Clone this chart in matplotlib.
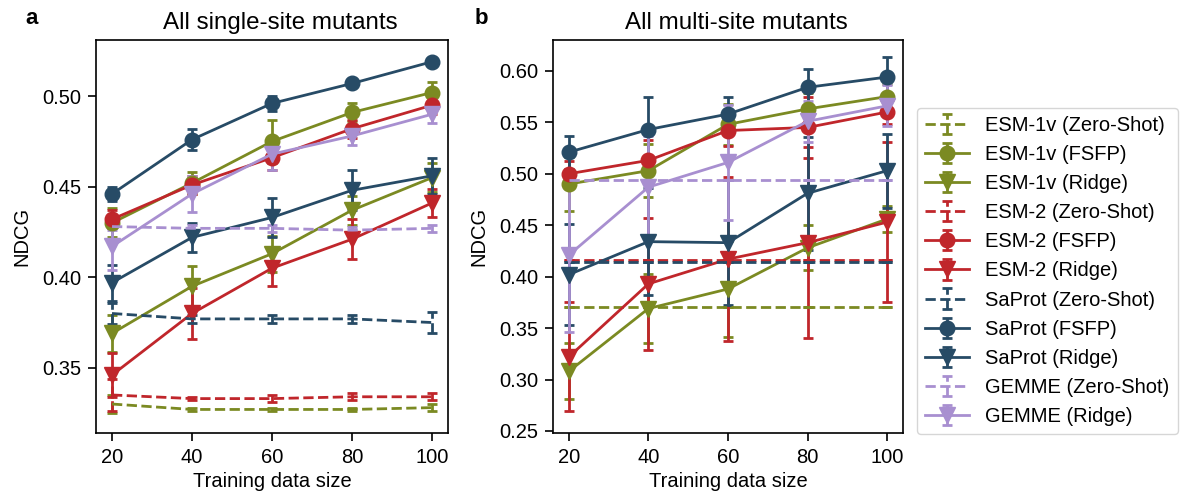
#!/usr/bin/env python3
"""NDCG vs training data size for single-site and multi-site mutants."""
import matplotlib

matplotlib.use("Agg")
import matplotlib.pyplot as plt  # noqa: E402
from matplotlib.ticker import FormatStrFormatter  # noqa: E402

plt.rcParams["font.family"] = ["Liberation Sans", "DejaVu Sans"]
plt.rcParams["font.size"] = 14.5

sizes = [20, 40, 60, 80, 100]

# ---- panel a: all single-site mutants ----
a_esm1v_zs = [0.330, 0.327, 0.327, 0.327, 0.328]
a_esm1v_zs_err = [0.005, 0.001, 0.001, 0.001, 0.002]
a_esm1v_fsfp = [0.430, 0.452, 0.475, 0.491, 0.502]
a_esm1v_fsfp_err = [0.008, 0.006, 0.012, 0.005, 0.006]
a_esm1v_ridge = [0.369, 0.395, 0.413, 0.437, 0.455]
a_esm1v_ridge_err = [0.010, 0.011, 0.010, 0.008, 0.008]
a_esm2_zs = [0.335, 0.333, 0.333, 0.334, 0.334]
a_esm2_zs_err = [0.009, 0.001, 0.002, 0.002, 0.002]
a_esm2_fsfp = [0.432, 0.451, 0.466, 0.482, 0.495]
a_esm2_fsfp_err = [0.005, 0.005, 0.007, 0.005, 0.005]
a_esm2_ridge = [0.346, 0.380, 0.405, 0.421, 0.441]
a_esm2_ridge_err = [0.012, 0.014, 0.010, 0.011, 0.008]
a_saprot_zs = [0.380, 0.377, 0.377, 0.377, 0.375]
a_saprot_zs_err = [0.006, 0.002, 0.002, 0.002, 0.006]
a_saprot_fsfp = [0.446, 0.476, 0.496, 0.507, 0.519]
a_saprot_fsfp_err = [0.004, 0.006, 0.004, 0.002, 0.002]
a_saprot_ridge = [0.397, 0.422, 0.433, 0.448, 0.456]
a_saprot_ridge_err = [0.010, 0.008, 0.011, 0.011, 0.010]
a_gemme_zs = [0.428, 0.427, 0.427, 0.426, 0.427]
a_gemme_zs_err = [0.002, 0.002, 0.002, 0.002, 0.002]
a_gemme_ridge = [0.417, 0.446, 0.468, 0.478, 0.490]
a_gemme_ridge_err = [0.013, 0.010, 0.009, 0.005, 0.005]

# ---- panel b: all multi-site mutants ----
b_esm1v_zs = [0.370, 0.370, 0.370, 0.370, 0.370]
b_esm1v_fsfp = [0.490, 0.503, 0.548, 0.563, 0.575]
b_esm1v_fsfp_err = [0.026, 0.026, 0.020, 0.015, 0.012]
b_esm1v_ridge = [0.308, 0.369, 0.388, 0.428, 0.456]
b_esm1v_ridge_err = [0.027, 0.034, 0.047, 0.022, 0.013]
b_esm2_zs = [0.416, 0.416, 0.416, 0.416, 0.416]
b_esm2_fsfp = [0.500, 0.513, 0.542, 0.545, 0.560]
b_esm2_fsfp_err = [0.012, 0.020, 0.015, 0.030, 0.012]
b_esm2_ridge = [0.322, 0.393, 0.417, 0.433, 0.453]
b_esm2_ridge_err = [0.053, 0.064, 0.080, 0.093, 0.078]
b_saprot_zs = [0.414, 0.414, 0.414, 0.414, 0.414]
b_saprot_fsfp = [0.521, 0.543, 0.558, 0.584, 0.594]
b_saprot_fsfp_err = [0.016, 0.032, 0.017, 0.018, 0.019]
b_saprot_ridge = [0.402, 0.434, 0.433, 0.481, 0.503]
b_saprot_ridge_err = [0.049, 0.052, 0.061, 0.055, 0.036]
b_gemme_zs = [0.494, 0.494, 0.494, 0.494, 0.494]
b_gemme_ridge = [0.421, 0.487, 0.511, 0.551, 0.566]
b_gemme_ridge_err = [0.075, 0.050, 0.056, 0.020, 0.020]
zero = [0, 0, 0, 0, 0]

colors = {"ESM-1v": "#7b8a22", "ESM-2": "#c0262b",
          "SaProt": "#274b66", "GEMME": "#a88fd0"}

# (model, method, panel a values, a err, panel b values, b err)
series = [
    ("ESM-1v", "Zero-Shot", a_esm1v_zs, a_esm1v_zs_err, b_esm1v_zs, zero),
    ("ESM-1v", "FSFP", a_esm1v_fsfp, a_esm1v_fsfp_err, b_esm1v_fsfp, b_esm1v_fsfp_err),
    ("ESM-1v", "Ridge", a_esm1v_ridge, a_esm1v_ridge_err, b_esm1v_ridge, b_esm1v_ridge_err),
    ("ESM-2", "Zero-Shot", a_esm2_zs, a_esm2_zs_err, b_esm2_zs, zero),
    ("ESM-2", "FSFP", a_esm2_fsfp, a_esm2_fsfp_err, b_esm2_fsfp, b_esm2_fsfp_err),
    ("ESM-2", "Ridge", a_esm2_ridge, a_esm2_ridge_err, b_esm2_ridge, b_esm2_ridge_err),
    ("SaProt", "Zero-Shot", a_saprot_zs, a_saprot_zs_err, b_saprot_zs, zero),
    ("SaProt", "FSFP", a_saprot_fsfp, a_saprot_fsfp_err, b_saprot_fsfp, b_saprot_fsfp_err),
    ("SaProt", "Ridge", a_saprot_ridge, a_saprot_ridge_err, b_saprot_ridge, b_saprot_ridge_err),
    ("GEMME", "Zero-Shot", a_gemme_zs, a_gemme_zs_err, b_gemme_zs, zero),
    ("GEMME", "Ridge", a_gemme_ridge, a_gemme_ridge_err, b_gemme_ridge, b_gemme_ridge_err),
]

fig = plt.figure(figsize=(11.82, 5.0), dpi=100)
ax_a = fig.add_axes([96 / 1182, 1 - 433 / 500, 352 / 1182, 393 / 500])
ax_b = fig.add_axes([553 / 1182, 1 - 433 / 500, 350 / 1182, 393 / 500])

handles = []
for model, method, ya, ea, yb, eb in series:
    c = colors[model]
    zs = method == "Zero-Shot"
    marker, msize = (None, 0) if zs else (("o", 10.5) if method == "FSFP" else ("v", 11.5))
    for ax, y, e in ((ax_a, ya, ea), (ax_b, yb, eb)):
        cont = ax.errorbar(sizes, y, yerr=e, color=c, ls="--" if zs else "-",
                           lw=2, marker=marker, markersize=msize,
                           elinewidth=2, capsize=3.5, capthick=2,
                           label=f"{model} ({method})")
        if zs:
            cont[2][0].set_linestyle("--")
    handles.append(cont)

ax_a.set_ylim(0.314, 0.531)
ax_a.set_yticks([0.35, 0.40, 0.45, 0.50])
ax_b.set_ylim(0.248, 0.630)
ax_b.set_yticks([0.25, 0.30, 0.35, 0.40, 0.45, 0.50, 0.55, 0.60])
for ax, title in ((ax_a, "All single-site mutants"),
                  (ax_b, "All multi-site mutants")):
    ax.set_xlim(16, 104)
    ax.set_xticks(sizes)
    ax.yaxis.set_major_formatter(FormatStrFormatter("%.2f"))
    ax.tick_params(length=6, width=1.2, pad=4.5)
    ax.set_xlabel("Training data size", labelpad=4)
    ax.set_ylabel("NDCG", labelpad=8)
    ax.set_title(title, x=0.524, pad=8)
    for sp in ax.spines.values():
        sp.set_linewidth(1.2)

fig.text(25 / 1182, 1 - 24 / 500, "a", fontsize=16, fontweight="bold", va="baseline")
fig.text(475 / 1182, 1 - 24 / 500, "b", fontsize=16, fontweight="bold", va="baseline")

fig.legend(handles=handles, loc="center left",
           bbox_to_anchor=(917 / 1182, 1 - 271 / 500), borderaxespad=0,
           labelspacing=0.5, borderpad=0.4, handlelength=2.2,
           handletextpad=0.8)

fig.savefig("out.png", dpi=100)
